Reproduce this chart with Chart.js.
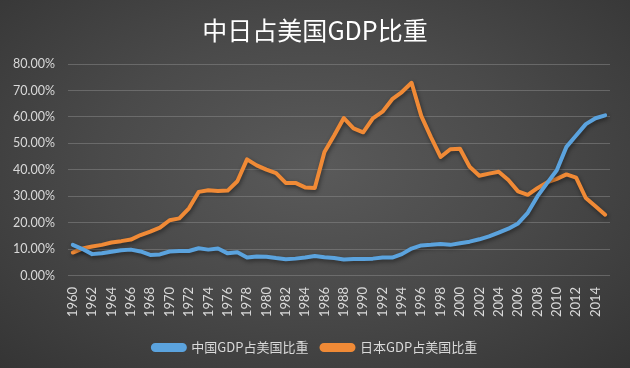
<!DOCTYPE html>
<html>
<head>
<meta charset="utf-8">
<script src="https://cdn.jsdelivr.net/npm/chart.js@4/dist/chart.umd.min.js"></script>
<style>
  html, body { margin: 0; padding: 0; }
  body {
    width: 630px; height: 368px; overflow: hidden;
    background: radial-gradient(ellipse 75% 80% at 50% 45%, #5a5a5a 0%, #4a4a4a 45%, #333333 100%);
  }
  #wrap { position: relative; width: 630px; height: 368px; }
</style>
</head>
<body>
<div id="wrap"><canvas id="c" width="630" height="368"></canvas></div>
<script>
const years = ['1960','1961','1962','1963','1964','1965','1966','1967','1968','1969',
  '1970','1971','1972','1973','1974','1975','1976','1977','1978','1979',
  '1980','1981','1982','1983','1984','1985','1986','1987','1988','1989',
  '1990','1991','1992','1993','1994','1995','1996','1997','1998','1999',
  '2000','2001','2002','2003','2004','2005','2006','2007','2008','2009',
  '2010','2011','2012','2013','2014','2015'];

const chinaShare = [11.7, 10.1, 8.2, 8.5, 9.1, 9.7, 9.9, 9.2, 7.9, 8.1,
  9.2, 9.4, 9.4, 10.4, 9.9, 10.3, 8.5, 8.9, 6.9, 7.3,
  7.2, 6.7, 6.3, 6.5, 6.9, 7.5, 7.0, 6.7, 6.2, 6.4,
  6.4, 6.5, 6.9, 6.9, 8.2, 10.3, 11.5, 11.7, 12.0, 11.7,
  12.3, 12.9, 13.8, 14.9, 16.3, 17.8, 19.8, 23.8, 30.0, 35.0,
  39.9, 48.7, 53.0, 57.3, 59.5, 60.6];

const japanShare = [8.8, 10.3, 11.1, 11.7, 12.6, 13.1, 13.7, 15.4, 16.7, 18.2,
  21.0, 21.7, 25.5, 31.7, 32.3, 32.0, 32.2, 35.7, 44.0, 41.7,
  40.1, 38.8, 35.1, 35.1, 33.4, 33.2, 46.8, 53.0, 59.6, 55.7,
  54.2, 59.5, 62.0, 66.7, 69.4, 72.9, 60.4, 52.4, 44.9, 47.8,
  48.0, 41.2, 37.8, 38.6, 39.3, 36.2, 31.9, 30.6, 33.1, 35.3,
  36.6, 38.3, 37.1, 29.4, 26.3, 23.1];

const yTicks = ['0.00%','10.00%','20.00%','30.00%','40.00%','50.00%','60.00%','70.00%','80.00%'];
const seriesNames = ['中国GDP占美国比重', '日本GDP占美国比重'];
const titleText = '中日占美国GDP比重';

const shadowPlugin = {
  id: 'lineShadow',
  beforeDatasetsDraw(chart) {
    const ctx = chart.ctx;
    ctx.save();
    ctx.shadowColor = 'rgba(0,0,0,0.45)';
    ctx.shadowBlur = 4;
    ctx.shadowOffsetX = 1;
    ctx.shadowOffsetY = 2;
  },
  afterDatasetsDraw(chart) { chart.ctx.restore(); }
};

new Chart(document.getElementById('c'), {
  type: 'line',
  data: {
    labels: years,
    datasets: [
      { label: seriesNames[0], data: chinaShare, borderColor: '#5BA3DE', backgroundColor: '#5BA3DE',
        borderWidth: 4, pointRadius: 0, tension: 0, borderJoinStyle: 'round', borderCapStyle: 'round' },
      { label: seriesNames[1], data: japanShare, borderColor: '#F08A36', backgroundColor: '#F08A36',
        borderWidth: 4, pointRadius: 0, tension: 0, borderJoinStyle: 'round', borderCapStyle: 'round' }
    ]
  },
  options: {
    responsive: false,
    animation: false,
    devicePixelRatio: 1,
    layout: { padding: { left: 0, right: 0, top: 0, bottom: 4 } },
    plugins: {
      title: {
        display: true, text: titleText, color: '#ffffff',
        font: { family: '"Noto Sans CJK SC", sans-serif', size: 25, weight: 'normal' },
        padding: { top: 15, bottom: 19 }
      },
      legend: {
        position: 'bottom',
        labels: {
          color: '#d9d9d9',
          font: { family: '"Noto Sans CJK SC", sans-serif', size: 13 },
          boxWidth: 32, boxHeight: 5, padding: 13,
          useBorderRadius: true, borderRadius: 2.5
        }
      },
      tooltip: { enabled: false }
    },
    scales: {
      x: {
        offset: true,
        grid: { display: false, drawTicks: false },
        border: { display: false },
        afterFit: function(scale) { scale.paddingRight = 20; },
        ticks: {
          color: '#d9d9d9', autoSkip: false, maxRotation: 90, minRotation: 90, padding: 11,
          font: { family: 'Lato, "Open Sans", sans-serif', size: 13 },
          callback: function(v, i) { return i % 2 === 0 ? years[i] : ''; }
        }
      },
      y: {
        min: 0, max: 80,
        grid: { color: 'rgba(140,140,140,0.5)', lineWidth: 1, drawTicks: false },
        border: { display: false },
        ticks: {
          stepSize: 10, color: '#d9d9d9', padding: 13,
          font: { family: 'Lato, "Open Sans", sans-serif', size: 12.5 },
          callback: function(v) { return yTicks[Math.round(v / 10)]; }
        }
      }
    }
  },
  plugins: [shadowPlugin]
});
</script>
</body>
</html>
